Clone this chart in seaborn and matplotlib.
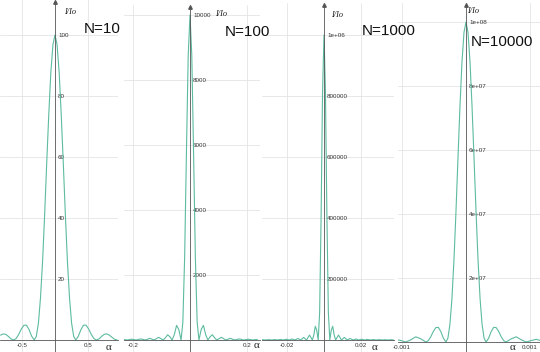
import matplotlib
matplotlib.use("Agg")
import matplotlib.pyplot as plt
import matplotlib.transforms as mtransforms
from matplotlib.ticker import MultipleLocator
import seaborn as sns

# ---- data (I/Io against alpha) ----
alpha_n10 = [-0.825, -0.785, -0.746, -0.707, -0.668, -0.628,
             -0.589, -0.550, -0.511, -0.471, -0.432, -0.393, -0.353, -0.314,
             -0.283, -0.251, -0.220, -0.188, -0.157, -0.126, -0.094, -0.063, -0.031,
             0.0,
             0.031, 0.063, 0.094, 0.126, 0.157, 0.188, 0.220, 0.251, 0.283,
             0.314, 0.353, 0.393, 0.432, 0.471, 0.511, 0.550, 0.589,
             0.628, 0.668, 0.707, 0.746, 0.785, 0.825, 0.864, 0.903, 0.942]
int_n10 = [1.58, 2.0, 1.85, 1.19, 0.38, 0.0,
           0.47, 1.83, 3.58, 4.85, 4.87, 3.41, 1.22, 0.0,
           1.2, 5.6, 13.8, 25.9, 41.0, 57.8, 74.1, 87.8, 96.9,
           100.0,
           96.9, 87.8, 74.1, 57.8, 41.0, 25.9, 13.8, 5.6, 1.2,
           0.0, 1.22, 3.41, 4.87, 4.85, 3.58, 1.83, 0.47,
           0.0, 0.38, 1.19, 1.85, 2.0, 1.58, 0.87, 0.24, 0.0]

alpha_n100 = [-0.236, -0.220, -0.204, -0.1885, -0.173, -0.157, -0.141, -0.1257,
              -0.110, -0.0942, -0.0864, -0.0785, -0.0707, -0.0628,
              -0.0550, -0.0471, -0.0393, -0.0314,
              -0.0251, -0.0188, -0.0126, -0.0063, 0.0,
              0.0063, 0.0126, 0.0188, 0.0251,
              0.0314, 0.0393, 0.0471, 0.0550,
              0.0628, 0.0707, 0.0785, 0.0864, 0.0942,
              0.110, 0.1257, 0.141, 0.157, 0.173, 0.1885, 0.204, 0.220, 0.236]
int_n100 = [18, 0, 24, 0, 33, 0, 50, 0,
            83, 0, 67, 162, 100, 0,
            165, 450, 324, 0,
            547, 2546, 5728, 8751, 10000,
            8751, 5728, 2546, 547,
            0, 324, 450, 165,
            0, 100, 162, 67, 0,
            83, 0, 50, 0, 33, 0, 24, 0, 18]

alpha_n1000 = [-0.0377, -0.0361, -0.03456, -0.03299, -0.03142, -0.02985, -0.02827,
               -0.02670, -0.02513, -0.02356, -0.02199, -0.02042, -0.01885,
               -0.01728, -0.01571, -0.01414, -0.01257, -0.0110, -0.00942,
               -0.00785, -0.00628, -0.00550, -0.00471, -0.00393, -0.00314,
               -0.00236, -0.00157, -0.00079, 0.0,
               0.00079, 0.00157, 0.00236,
               0.00314, 0.00393, 0.00471, 0.00550, 0.00628, 0.00785,
               0.00942, 0.0110, 0.01257, 0.01414, 0.01571, 0.01728,
               0.01885, 0.02042, 0.02199, 0.02356, 0.02513, 0.02670,
               0.02827, 0.02985, 0.03142, 0.03299, 0.03456, 0.0361, 0.0377]
int_n1000 = [0, 770, 0, 920, 0, 1120, 0,
             1400, 0, 1800, 0, 2400, 0,
             3350, 0, 5000, 0, 8300, 0,
             16200, 0, 16500, 45000, 32400, 0,
             90000, 405000, 811000, 1000000,
             811000, 405000, 90000,
             0, 32400, 45000, 16500, 0, 16200,
             0, 8300, 0, 5000, 0, 3350,
             0, 2400, 0, 1800, 0, 1400,
             0, 1120, 0, 920, 0, 770, 0]

alpha_n10000 = [-0.001257, -0.001178, -0.0011, -0.001021, -0.000942,
                -0.000864, -0.000785, -0.000707, -0.000628,
                -0.000589, -0.000550, -0.000511, -0.000471, -0.000432, -0.000393, -0.000353,
                -0.0003142, -0.0002827, -0.0002513, -0.0002199, -0.0001885, -0.0001571,
                -0.0001257, -0.0000942, -0.0000628, -0.0000314, 0.0,
                0.0000314, 0.0000628, 0.0000942, 0.0001257, 0.0001571, 0.0001885,
                0.0002199, 0.0002513, 0.0002827, 0.0003142,
                0.000353, 0.000393, 0.000432, 0.000471, 0.000511, 0.000550, 0.000589,
                0.000628, 0.000707, 0.000785, 0.000864,
                0.000942, 0.001021, 0.0011, 0.001178, 0.001257]
int_n10000 = [0, 3.6e5, 8.3e5, 4.8e5, 0,
              6.7e5, 1.62e6, 1.0e6, 0,
              4.2e5, 1.65e6, 3.28e6, 4.50e6, 4.57e6, 3.24e6, 1.17e6,
              0, 1.19e6, 5.47e6, 1.353e7, 2.546e7, 4.053e7,
              5.728e7, 7.368e7, 8.751e7, 9.675e7, 1.0e8,
              9.675e7, 8.751e7, 7.368e7, 5.728e7, 4.053e7, 2.546e7,
              1.353e7, 5.47e6, 1.19e6, 0,
              1.17e6, 3.24e6, 4.57e6, 4.50e6, 3.28e6, 1.65e6, 4.2e5,
              0, 1.0e6, 1.62e6, 6.7e5,
              0, 4.8e5, 8.3e5, 3.6e5, 0]

# tick values and labels
xt_n10, xl_n10 = [-0.5, 0.5], ["-0.5", "0.5"]
yt_n10, yl_n10 = [20, 40, 60, 80, 100], ["20", "40", "60", "80", "100"]
xt_n100, xl_n100 = [-0.2, 0.2], ["-0.2", "0.2"]
yt_n100, yl_n100 = [2000, 4000, 6000, 8000, 10000], ["2000", "4000", "6000", "8000", "10000"]
xt_n1000, xl_n1000 = [-0.02, 0.02], ["-0.02", "0.02"]
yt_n1000 = [200000, 400000, 600000, 800000, 1000000]
yl_n1000 = ["200000", "400000", "600000", "800000", "1e+06"]
xt_n10000, xl_n10000 = [-0.001, 0.001], ["-0.001", "0.001"]
yt_n10000 = [2e7, 4e7, 6e7, 8e7, 1e8]
yl_n10000 = ["2e+07", "4e+07", "6e+07", "8e+07", "1e+08"]

titles = ["N=10", "N=100", "N=1000", "N=10000"]

sns.set_style("white")
plt.rcParams["font.family"] = ["Liberation Sans", "DejaVu Sans"]

W, H = 540, 352
fig = plt.figure(figsize=(W / 100, H / 100), dpi=100)
fig.patch.set_facecolor("white")

line_col = "#5dbba0"
axis_col = "#555555"

# layout of each panel in pixels: box (x0, x1, top), origin, px per unit
panels = [
    dict(x=alpha_n10, y=int_n10, box=(0, 118, 0), org=(55, 340), sc=(66, 3.05),
         xt=xt_n10, xl=xl_n10, yt=yt_n10, yl=yl_n10, mn=(0.5 / 3, 5),
         tpos=(102, 29), ipos=(70, 12), apos=(108, 347)),
    dict(x=alpha_n100, y=int_n100, box=(124, 260, 5), org=(190, 340), sc=(285, 0.0325),
         xt=xt_n100, xl=xl_n100, yt=yt_n100, yl=yl_n100, mn=(0.05, 500),
         tpos=(247, 32), ipos=(221, 14), apos=(257, 346)),
    dict(x=alpha_n1000, y=int_n1000, box=(262, 394, 3), org=(324, 340), sc=(1850, 0.000305),
         xt=xt_n1000, xl=xl_n1000, yt=yt_n1000, yl=yl_n1000, mn=(0.005, 50000),
         tpos=(389, 31), ipos=(337, 15), apos=(375, 348)),
    dict(x=alpha_n10000, y=int_n10000, box=(398, 540, 3), org=(466, 342), sc=(64000, 3.2e-6),
         xt=xt_n10000, xl=xl_n10000, yt=yt_n10000, yl=yl_n10000, mn=(0.00025, 5e6),
         tpos=(502, 42), ipos=(473, 11), apos=(512, 348)),
]

for p, title in zip(panels, titles):
    x0, x1, top = p["box"]
    ox, oy = p["org"]
    sx, sy = p["sc"]
    ax = fig.add_axes([x0 / W, 0, (x1 - x0) / W, (H - top) / H])
    ax.set_facecolor("white")

    sns.lineplot(x=p["x"], y=p["y"], ax=ax, color=line_col, lw=0.8,
                 estimator=None, sort=False)

    ax.set_xlim((x0 - ox) / sx, (x1 - ox) / sx)
    ax.set_ylim((oy - H) / sy, (oy - top) / sy)

    for s in ["top", "right"]:
        ax.spines[s].set_visible(False)
    for s in ["left", "bottom"]:
        ax.spines[s].set_position(("data", 0))
        ax.spines[s].set_color(axis_col)
        ax.spines[s].set_linewidth(0.6)

    ax.set_xticks(p["xt"])
    ax.set_xticklabels(p["xl"])
    ax.set_yticks(p["yt"])
    ax.set_yticklabels(p["yl"])
    ax.xaxis.set_minor_locator(MultipleLocator(p["mn"][0]))
    ax.yaxis.set_minor_locator(MultipleLocator(p["mn"][1]))
    ax.tick_params(which="major", direction="inout", length=3, width=0.5,
                   colors=axis_col, labelsize=4.5, labelcolor="#333333")
    ax.tick_params(which="minor", direction="inout", length=2, width=0.4, colors=axis_col)
    ax.tick_params(axis="y", pad=-3.7)
    ax.tick_params(axis="x", pad=1)
    for lab in ax.get_yticklabels():
        lab.set_horizontalalignment("left")

    ax.grid(True, which="major", color="#e4e4e4", lw=0.6)
    ax.set_axisbelow(True)
    ax.set_xlabel("")
    ax.set_ylabel("")

    # arrow head on top of the vertical axis
    trans = mtransforms.blended_transform_factory(ax.transData, ax.transAxes)
    ax.plot([0], [0.995], marker="^", ms=2.5, color=axis_col, transform=trans, clip_on=False)

    tx, ty = p["tpos"]
    fig.text(tx / W, 1 - ty / H, title, ha="center", va="center", fontsize=11,
             family=["Liberation Sans", "DejaVu Sans"], color="#111111")
    ix, iy = p["ipos"]
    fig.text(ix / W, 1 - iy / H, "I/Io", ha="center", va="center", fontsize=6,
             family=["Liberation Serif", "DejaVu Serif"], style="italic", color="#222222")
    axx, axy = p["apos"]
    fig.text(axx / W, 1 - axy / H, "α", ha="center", va="center", fontsize=8,
             family=["Liberation Serif", "DejaVu Serif"], color="#222222")

fig.savefig("out.png", dpi=100, facecolor="white")
